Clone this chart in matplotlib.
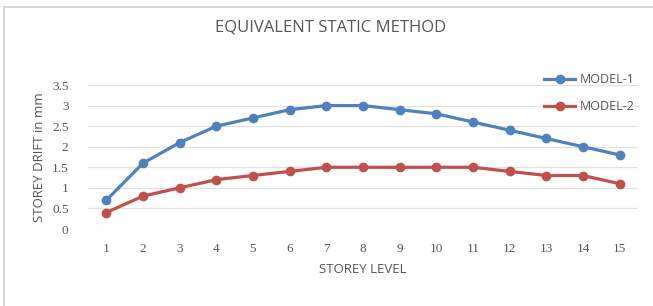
import matplotlib
matplotlib.use('Agg')
import matplotlib.pyplot as plt
from matplotlib.patches import Rectangle

storey = list(range(1, 16))
model_1 = [0.7, 1.6, 2.1, 2.5, 2.7, 2.9, 3.0, 3.0, 2.9, 2.8, 2.6, 2.4, 2.2, 2.0, 1.8]
model_2 = [0.4, 0.8, 1.0, 1.2, 1.3, 1.4, 1.5, 1.5, 1.5, 1.5, 1.5, 1.4, 1.3, 1.3, 1.1]
y_ticks = [0, 0.5, 1, 1.5, 2, 2.5, 3, 3.5]

fig = plt.figure(figsize=(6.53, 3.06), dpi=100)
fig.patches.append(Rectangle((4 / 653, -0.1), 1.1, 1 - 7 / 306 + 0.1, transform=fig.transFigure,
                             fill=False, edgecolor='#d0d0d0', linewidth=1.2))

ax = fig.add_axes([88 / 653, 1 - 229 / 306, 550 / 653, 144 / 306])
ax.plot(storey, model_1, color='#4F81BD', lw=2.3, marker='o', ms=6, label='MODEL-1')
ax.plot(storey, model_2, color='#C0504D', lw=2.3, marker='o', ms=6, label='MODEL-2')

ax.set_xlim(0.5, 15.5)
ax.set_ylim(0, 3.5)
ax.set_xticks(storey)
ax.set_yticks(y_ticks)
ax.set_yticklabels([f'{v:g}' for v in y_ticks])
for sp in ax.spines.values():
    sp.set_visible(False)
ax.grid(axis='y', color='#e0e0e0', lw=0.9)
ax.set_axisbelow(True)
ax.tick_params(length=0, colors='#555555', labelsize=9.5)
for lab in ax.get_xticklabels() + ax.get_yticklabels():
    lab.set_family('Liberation Serif')
ax.tick_params(axis='x', pad=10)
ax.tick_params(axis='y', pad=14)

ax.set_xlabel('STOREY LEVEL', color='#555555', fontsize=9.5, family='Open Sans', labelpad=6)
ax.set_ylabel('STOREY DRIFT in mm', color='#555555', fontsize=9.5, family='Open Sans', labelpad=4)

fig.text(0.506, 1 - 28 / 306, 'EQUIVALENT STATIC METHOD', ha='center', va='center',
         color='#555555', fontsize=12, family='Open Sans')

leg = ax.legend(loc='upper right', bbox_to_anchor=(1.015, 1.16), frameon=False,
                handlelength=2.5, handletextpad=0.4, labelspacing=1.1,
                prop={'family': 'Open Sans', 'size': 9})
for t in leg.get_texts():
    t.set_color('#555555')

fig.savefig('out.png', dpi=100)
